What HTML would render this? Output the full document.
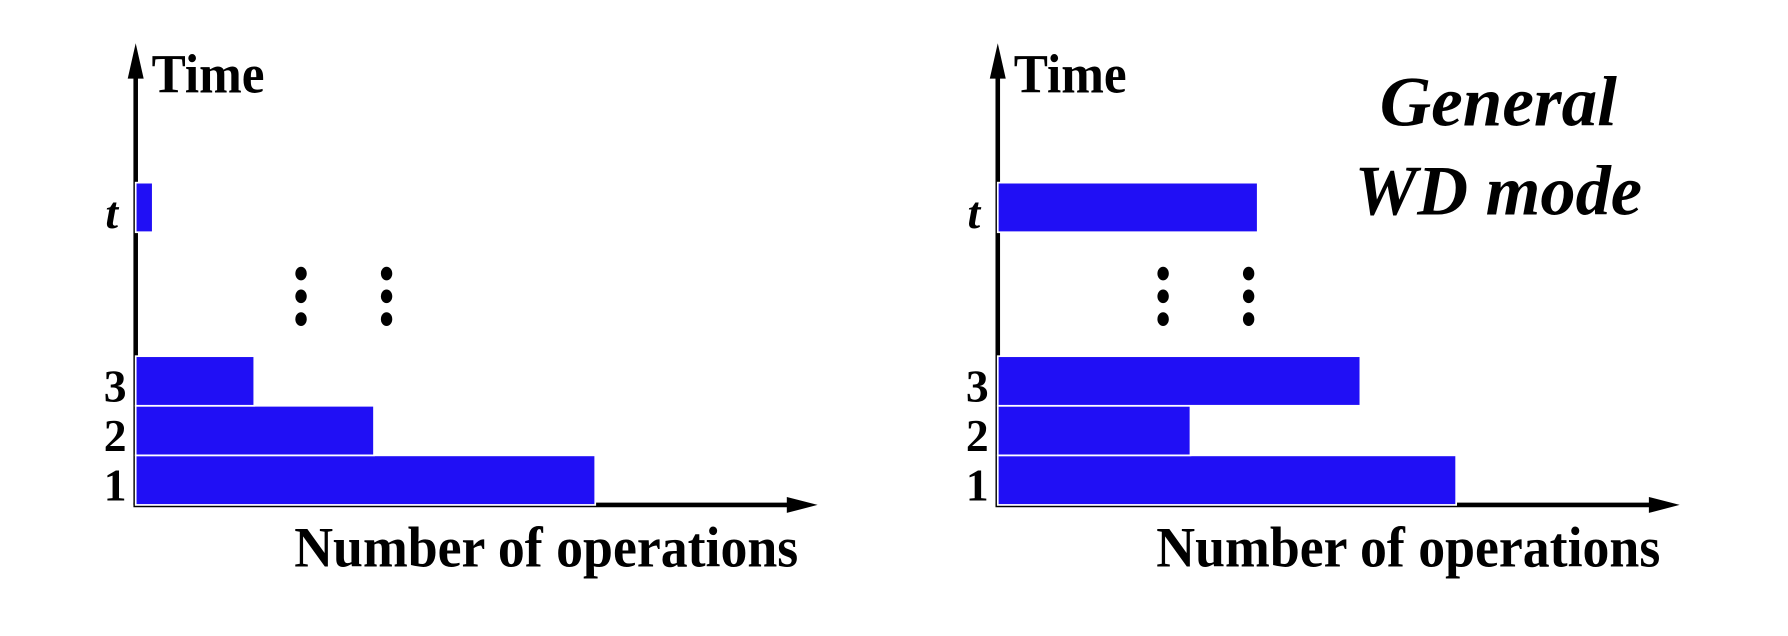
<!DOCTYPE html>
<html><head><meta charset="utf-8"><style>
html,body{margin:0;padding:0;background:#fff;}
svg{display:block;}
text{font-family:"Liberation Serif",serif;font-weight:bold;fill:#000;}
</style></head><body>
<svg id="chart" width="1788" height="636" viewBox="0 0 1568 558" preserveAspectRatio="none" xmlns="http://www.w3.org/2000/svg">
<g id="left"></g>
<g id="right"></g>
<text x="1210" y="110" font-size="62" font-style="italic" textLength="208" lengthAdjust="spacingAndGlyphs">General</text>
<text x="1188" y="188" font-size="62" font-style="italic" textLength="252" lengthAdjust="spacingAndGlyphs">WD mode</text>
</svg>
<script>
const rowLabels = ["1","2","3","t"];
const rowSlots = [0,1,2,5.5];
const leftValues = [403,209,104,15];
const rightValues = [402,169,318,228];
const NS="http://www.w3.org/2000/svg";
function mk(tag,attrs,parent){const e=document.createElementNS(NS,tag);for(const k in attrs)e.setAttribute(k,attrs[k]);parent.appendChild(e);return e;}
function panel(g,ox,values,side){
  const x0=ox+119, yBase=443, rowH=43.5;
  const ys=s=>yBase-(s+1)*rowH;
  const ya=mk('line',{x1:x0,y1:443,x2:x0,y2:55,stroke:'#000','stroke-width':4},g);
  
  
  const yh=mk('polygon',{points:`${x0-7},69 ${x0},38 ${x0+7},69`,fill:'#000'},g);
  
  
  const xa=mk('line',{x1:x0-2,y1:443,x2:ox+700,y2:443,stroke:'#000','stroke-width':4},g);
  
  
  const xh=mk('polygon',{points:`${ox+690},436 ${ox+717},443 ${ox+690},450`,fill:'#000'},g);
  
  
  values.forEach((v,i)=>{
    const r=mk('rect',{x:x0,y:ys(rowSlots[i]),width:v,height:rowH,fill:'#200ff5',stroke:'#fff','stroke-width':1.5},g);
    
    
    const t=mk('text',{x:ox+101,y:ys(rowSlots[i])+rowH/2+18,'font-size':40,'text-anchor':'middle'},g);
    if(rowLabels[i]==='t'){t.setAttribute('font-style','italic');t.setAttribute('x',ox+98);}
    t.textContent=rowLabels[i];
    
    
  });
  [264,339].forEach(dx=>[240,260,280].forEach(dy=>{
    const c=mk('ellipse',{cx:ox+dx,cy:dy,rx:5,ry:6,fill:'#000'},g);
    
    
  }));
  const ty=mk('text',{x:ox+133,y:81,'font-size':48,textLength:99,lengthAdjust:'spacingAndGlyphs'},g);
  ty.textContent='Time';
  
  
  const tx=mk('text',{x:ox+258,y:497,'font-size':50,textLength:442,lengthAdjust:'spacingAndGlyphs'},g);
  tx.textContent='Number of operations';
  
  
}
panel(document.getElementById('left'),0,leftValues,'left');
panel(document.getElementById('right'),756,rightValues,'right');
</script>
</body></html>
